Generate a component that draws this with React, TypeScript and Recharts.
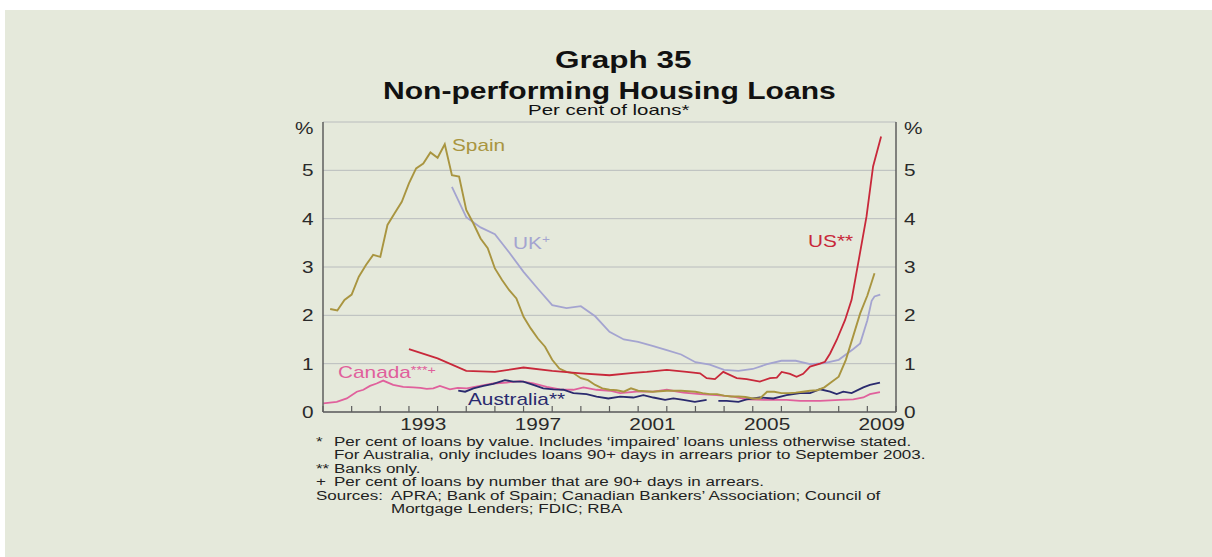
import React from 'react';
import { LineChart, Line, XAxis, YAxis, CartesianGrid } from 'recharts';

// ---------- data (time in decimal years, value in per cent) ----------
const spain = [
  { t: 1990.25, v: 2.13 }, { t: 1990.5, v: 2.1 }, { t: 1990.75, v: 2.32 }, { t: 1991.0, v: 2.43 },
  { t: 1991.25, v: 2.8 }, { t: 1991.5, v: 3.04 }, { t: 1991.75, v: 3.25 }, { t: 1992.0, v: 3.21 },
  { t: 1992.25, v: 3.87 }, { t: 1992.5, v: 4.11 }, { t: 1992.75, v: 4.35 }, { t: 1993.0, v: 4.73 },
  { t: 1993.25, v: 5.04 }, { t: 1993.5, v: 5.14 }, { t: 1993.75, v: 5.37 }, { t: 1994.0, v: 5.26 },
  { t: 1994.25, v: 5.54 }, { t: 1994.5, v: 4.9 }, { t: 1994.75, v: 4.87 }, { t: 1995.0, v: 4.18 },
  { t: 1995.25, v: 3.9 }, { t: 1995.5, v: 3.59 }, { t: 1995.75, v: 3.39 }, { t: 1996.0, v: 2.97 },
  { t: 1996.25, v: 2.73 }, { t: 1996.5, v: 2.52 }, { t: 1996.75, v: 2.35 }, { t: 1997.0, v: 1.97 },
  { t: 1997.25, v: 1.73 }, { t: 1997.5, v: 1.52 }, { t: 1997.75, v: 1.35 }, { t: 1998.0, v: 1.08 },
  { t: 1998.25, v: 0.9 }, { t: 1998.5, v: 0.83 }, { t: 1998.75, v: 0.8 }, { t: 1999.0, v: 0.7 },
  { t: 1999.25, v: 0.66 }, { t: 1999.5, v: 0.56 }, { t: 1999.75, v: 0.49 }, { t: 2000.0, v: 0.46 },
  { t: 2000.25, v: 0.45 }, { t: 2000.5, v: 0.42 }, { t: 2000.75, v: 0.49 }, { t: 2001.0, v: 0.44 },
  { t: 2001.25, v: 0.43 }, { t: 2001.5, v: 0.42 }, { t: 2001.75, v: 0.43 }, { t: 2002.0, v: 0.44 },
  { t: 2002.25, v: 0.44 }, { t: 2002.5, v: 0.44 }, { t: 2002.75, v: 0.43 }, { t: 2003.0, v: 0.42 },
  { t: 2003.25, v: 0.39 }, { t: 2003.5, v: 0.37 }, { t: 2003.75, v: 0.37 }, { t: 2004.0, v: 0.34 },
  { t: 2004.25, v: 0.32 }, { t: 2004.5, v: 0.32 }, { t: 2004.75, v: 0.31 }, { t: 2005.0, v: 0.28 },
  { t: 2005.25, v: 0.28 }, { t: 2005.5, v: 0.42 }, { t: 2005.75, v: 0.42 }, { t: 2006.0, v: 0.39 },
  { t: 2006.25, v: 0.39 }, { t: 2006.5, v: 0.4 }, { t: 2006.75, v: 0.42 }, { t: 2007.0, v: 0.44 },
  { t: 2007.25, v: 0.45 }, { t: 2007.5, v: 0.51 }, { t: 2007.75, v: 0.62 }, { t: 2008.0, v: 0.73 },
  { t: 2008.25, v: 1.08 }, { t: 2008.5, v: 1.56 }, { t: 2008.75, v: 2.04 }, { t: 2009.0, v: 2.41 },
  { t: 2009.25, v: 2.87 },
];

const uk = [
  { t: 1994.5, v: 4.66 }, { t: 1995.0, v: 4.03 }, { t: 1995.5, v: 3.82 }, { t: 1996.0, v: 3.68 },
  { t: 1996.5, v: 3.3 }, { t: 1997.0, v: 2.9 }, { t: 1997.5, v: 2.55 }, { t: 1998.0, v: 2.21 },
  { t: 1998.5, v: 2.15 }, { t: 1999.0, v: 2.19 }, { t: 1999.5, v: 1.98 }, { t: 2000.0, v: 1.66 },
  { t: 2000.5, v: 1.5 }, { t: 2001.0, v: 1.45 }, { t: 2001.5, v: 1.37 }, { t: 2002.0, v: 1.28 },
  { t: 2002.5, v: 1.19 }, { t: 2003.0, v: 1.03 }, { t: 2003.5, v: 0.98 }, { t: 2004.0, v: 0.87 },
  { t: 2004.5, v: 0.85 }, { t: 2005.0, v: 0.89 }, { t: 2005.5, v: 0.99 }, { t: 2006.0, v: 1.06 },
  { t: 2006.5, v: 1.06 }, { t: 2007.0, v: 0.99 }, { t: 2007.5, v: 1.01 }, { t: 2008.0, v: 1.08 },
  { t: 2008.5, v: 1.3 }, { t: 2008.75, v: 1.42 }, { t: 2009.0, v: 1.9 }, { t: 2009.15, v: 2.3 },
  { t: 2009.25, v: 2.39 }, { t: 2009.45, v: 2.43 },
];

const us = [
  { t: 1993.0, v: 1.3 }, { t: 1994.0, v: 1.11 }, { t: 1995.0, v: 0.85 }, { t: 1996.0, v: 0.83 },
  { t: 1997.0, v: 0.92 }, { t: 1998.0, v: 0.85 }, { t: 1999.0, v: 0.8 }, { t: 2000.0, v: 0.76 },
  { t: 2000.83, v: 0.81 }, { t: 2001.3, v: 0.83 }, { t: 2002.0, v: 0.87 }, { t: 2002.69, v: 0.83 },
  { t: 2003.16, v: 0.8 }, { t: 2003.39, v: 0.7 }, { t: 2003.68, v: 0.68 }, { t: 2003.97, v: 0.83 },
  { t: 2004.44, v: 0.7 }, { t: 2004.79, v: 0.68 }, { t: 2005.25, v: 0.63 }, { t: 2005.6, v: 0.7 },
  { t: 2005.84, v: 0.71 }, { t: 2006.01, v: 0.83 }, { t: 2006.3, v: 0.79 }, { t: 2006.53, v: 0.73 },
  { t: 2006.76, v: 0.79 }, { t: 2007.0, v: 0.94 }, { t: 2007.35, v: 1.0 }, { t: 2007.52, v: 1.04 },
  { t: 2007.7, v: 1.21 }, { t: 2007.93, v: 1.49 }, { t: 2008.22, v: 1.9 }, { t: 2008.45, v: 2.32 },
  { t: 2008.68, v: 3.08 }, { t: 2008.97, v: 4.04 }, { t: 2009.2, v: 5.08 }, { t: 2009.48, v: 5.7 },
];

const canada = [
  { t: 1990.01, v: 0.18 }, { t: 1990.48, v: 0.21 }, { t: 1990.83, v: 0.28 }, { t: 1991.18, v: 0.42 },
  { t: 1991.41, v: 0.46 }, { t: 1991.64, v: 0.54 }, { t: 1991.87, v: 0.59 }, { t: 1992.1, v: 0.65 },
  { t: 1992.45, v: 0.56 }, { t: 1992.8, v: 0.52 }, { t: 1993.15, v: 0.51 }, { t: 1993.4, v: 0.5 },
  { t: 1993.62, v: 0.48 }, { t: 1993.85, v: 0.49 }, { t: 1994.08, v: 0.54 }, { t: 1994.43, v: 0.47 },
  { t: 1994.7, v: 0.5 }, { t: 1995.02, v: 0.49 }, { t: 1995.48, v: 0.54 }, { t: 1995.94, v: 0.59 },
  { t: 1996.41, v: 0.61 }, { t: 1996.88, v: 0.64 }, { t: 1997.34, v: 0.59 }, { t: 1997.81, v: 0.52 },
  { t: 1998.27, v: 0.47 }, { t: 1998.74, v: 0.46 }, { t: 1999.09, v: 0.51 }, { t: 1999.55, v: 0.46 },
  { t: 2000.02, v: 0.44 }, { t: 2000.37, v: 0.39 }, { t: 2000.95, v: 0.42 }, { t: 2001.53, v: 0.42 },
  { t: 2002.0, v: 0.46 }, { t: 2002.58, v: 0.4 }, { t: 2003.16, v: 0.37 }, { t: 2003.74, v: 0.35 },
  { t: 2004.32, v: 0.32 }, { t: 2004.79, v: 0.26 }, { t: 2005.49, v: 0.25 }, { t: 2006.18, v: 0.25 },
  { t: 2006.65, v: 0.23 }, { t: 2007.35, v: 0.23 }, { t: 2008.05, v: 0.25 }, { t: 2008.51, v: 0.26 },
  { t: 2008.86, v: 0.3 }, { t: 2009.09, v: 0.37 }, { t: 2009.44, v: 0.41 },
];

const australia = [
  { t: 1994.72, v: 0.44 }, { t: 1994.96, v: 0.42 }, { t: 1995.25, v: 0.49 }, { t: 1995.6, v: 0.54 },
  { t: 1995.94, v: 0.58 }, { t: 1996.35, v: 0.66 }, { t: 1996.64, v: 0.63 }, { t: 1996.99, v: 0.63 },
  { t: 1997.34, v: 0.56 }, { t: 1997.69, v: 0.49 }, { t: 1998.04, v: 0.47 }, { t: 1998.39, v: 0.46 },
  { t: 1998.74, v: 0.39 }, { t: 1999.2, v: 0.37 }, { t: 1999.55, v: 0.32 }, { t: 1999.96, v: 0.28 },
  { t: 2000.37, v: 0.32 }, { t: 2000.83, v: 0.3 }, { t: 2001.18, v: 0.35 }, { t: 2001.53, v: 0.3 },
  { t: 2001.94, v: 0.25 }, { t: 2002.23, v: 0.28 }, { t: 2002.58, v: 0.25 }, { t: 2002.98, v: 0.21 },
  { t: 2003.39, v: 0.25 }, { t: 2003.55, v: null }, { t: 2003.8, v: 0.23 }, { t: 2004.09, v: 0.23 },
  { t: 2004.5, v: 0.21 }, { t: 2004.79, v: 0.26 }, { t: 2005.25, v: 0.3 }, { t: 2005.72, v: 0.28 },
  { t: 2006.18, v: 0.35 }, { t: 2006.65, v: 0.39 }, { t: 2007.0, v: 0.39 }, { t: 2007.35, v: 0.47 },
  { t: 2007.7, v: 0.42 }, { t: 2007.93, v: 0.37 }, { t: 2008.16, v: 0.42 }, { t: 2008.45, v: 0.39 },
  { t: 2008.86, v: 0.51 }, { t: 2009.09, v: 0.56 }, { t: 2009.44, v: 0.61 },
];

const yearTicks = [1990, 1991, 1992, 1993, 1994, 1995, 1996, 1997, 1998, 1999, 2000,
  2001, 2002, 2003, 2004, 2005, 2006, 2007, 2008, 2009, 2010];
const yearLabels = [1993, 1997, 2001, 2005, 2009];
const yTicks = [0, 1, 2, 3, 4, 5, 6];

const footnotes = [
  { mark: '*', text: 'Per cent of loans by value. Includes \u2018impaired\u2019 loans unless otherwise stated.' },
  { mark: '', text: 'For Australia, only includes loans 90+ days in arrears prior to September 2003.' },
  { mark: '**', text: 'Banks only.' },
  { mark: '+', text: 'Per cent of loans by number that are 90+ days in arrears.' },
];
const sources = ['APRA; Bank of Spain; Canadian Bankers\u2019 Association; Council of', 'Mortgage Lenders; FDIC; RBA'];

// ---------- styles ----------
const FONT = '"Liberation Sans", Arial, Helvetica, sans-serif';
const BG = '#e5e9db';
const C_SPAIN = '#a99540';
const C_UK = '#a4a4d0';
const C_US = '#c8283a';
const C_CAN = '#e0609c';
const C_AUS = '#2a2a6e';
const AXIS = '#5e5e5e';
const GRID = '#b9bcbd';

const T = ({ x, y, size, s, anchor = 'start', weight = 'normal', fill = '#222', children }: any) => (
  <text
    transform={`translate(${x},${y}) scale(${s},1)`}
    fontSize={size}
    fontWeight={weight}
    textAnchor={anchor}
    fill={fill}
    fontFamily={FONT}
  >
    {children}
  </text>
);

const XTick = (props: any) => {
  const { x, y, payload } = props;
  const v = payload.value;
  if (Number.isInteger(v)) {
    return <line x1={x} x2={x} y1={y} y2={y - 6} stroke={AXIS} strokeWidth={1.2} />;
  }
  return (
    <T x={x} y={y + 18} size={16} s={1.3} anchor="middle" fill="#2a2a2a">
      {String(Math.floor(v))}
    </T>
  );
};

const YTick = (props: any) => {
  const { x, y, payload, side } = props;
  const top = payload.value === 6;
  const label = top ? '%' : String(payload.value);
  const tx = side === 'left' ? x - 9.5 : x + 8;
  const ty = y + (top ? 11.5 : 6);
  return (
    <T x={tx} y={ty} size={16} s={1.3} anchor={side === 'left' ? 'end' : 'start'} fill="#2a2a2a">
      {label}
    </T>
  );
};

const xTickValues = [...yearTicks, ...yearLabels.map((y) => y + 0.5)];

const FN_SIZE = 12.5;
const FN_S = 1.36;
const FN_Y = 446;
const FN_DY = 13.4;

export default function App() {
  return (
    <div style={{ position: 'absolute', left: 0, top: 0, width: 1212, height: 557, background: '#ffffff', overflow: 'hidden' }}>
      <div style={{ position: 'absolute', left: 5, top: 10, width: 1207, height: 547, background: BG }} />
      <div style={{ position: 'absolute', left: 0, top: 0 }}>
        <LineChart width={1212} height={557} margin={{ top: 122, right: 276, bottom: 115, left: 283 }}>
          <CartesianGrid vertical={false} stroke={GRID} strokeWidth={1} yAxisId="left" />
          <XAxis
            dataKey="t"
            type="number"
            domain={[1990, 2010]}
            ticks={xTickValues}
            interval={0}
            tickSize={0}
            tickMargin={0}
            tickLine={false}
            axisLine={{ stroke: AXIS, strokeWidth: 1.5 }}
            tick={(p: any) => <XTick {...p} />}
            height={30}
          />
          <YAxis
            yAxisId="left"
            orientation="left"
            type="number"
            domain={[0, 6]}
            ticks={yTicks}
            interval={0}
            width={40}
            tickSize={0}
            tickMargin={0}
            tickLine={false}
            axisLine={{ stroke: AXIS, strokeWidth: 1.5 }}
            tick={(p: any) => <YTick {...p} side="left" />}
          />
          <YAxis
            yAxisId="right"
            orientation="right"
            type="number"
            domain={[0, 6]}
            ticks={yTicks}
            interval={0}
            width={40}
            tickSize={0}
            tickMargin={0}
            tickLine={false}
            axisLine={{ stroke: AXIS, strokeWidth: 1.5 }}
            tick={(p: any) => <YTick {...p} side="right" />}
          />
          <Line yAxisId="left" data={canada} dataKey="v" stroke={C_CAN} strokeWidth={1.8} dot={false} isAnimationActive={false} />
          <Line yAxisId="left" data={australia} dataKey="v" stroke={C_AUS} strokeWidth={1.8} dot={false} isAnimationActive={false} connectNulls={false} />
          <Line yAxisId="left" data={uk} dataKey="v" stroke={C_UK} strokeWidth={1.8} dot={false} isAnimationActive={false} />
          <Line yAxisId="left" data={spain} dataKey="v" stroke={C_SPAIN} strokeWidth={1.9} dot={false} isAnimationActive={false} />
          <Line yAxisId="right" data={us} dataKey="v" stroke={C_US} strokeWidth={1.8} dot={false} isAnimationActive={false} />
        </LineChart>
      </div>
      <svg style={{ position: 'absolute', left: 0, top: 0, pointerEvents: 'none' }} width={1212} height={557}>
        {/* titles */}
        <T x={555} y={68} size={23.5} s={1.34} weight="bold" fill="#111">Graph 35</T>
        <T x={383} y={98.5} size={23.5} s={1.28} weight="bold" fill="#111">Non-performing Housing Loans</T>
        <T x={528} y={114.5} size={14.5} s={1.41} fill="#111">Per cent of loans*</T>

        {/* series labels */}
        <T x={452} y={150.5} size={16} s={1.3} fill={C_SPAIN}>Spain</T>
        <T x={513} y={249.3} size={16} s={1.3} fill={C_UK}>
          UK<tspan fontSize={10.5} dy={-6}>+</tspan>
        </T>
        <T x={808} y={247} size={16} s={1.3} fill={C_US}>US**</T>
        <T x={338} y={378.3} size={16} s={1.3} fill={C_CAN}>
          Canada<tspan fontSize={11} dy={-4.5}>***+</tspan>
        </T>
        <T x={468} y={405} size={16} s={1.3} fill={C_AUS}>Australia**</T>

        {/* footnotes */}
        {footnotes.map((f, i) => (
          <g key={i}>
            {f.mark ? <T x={316} y={FN_Y + i * FN_DY} size={FN_SIZE} s={FN_S}>{f.mark}</T> : null}
            <T x={334} y={FN_Y + i * FN_DY} size={FN_SIZE} s={FN_S}>{f.text}</T>
          </g>
        ))}
        <T x={316} y={FN_Y + 4 * FN_DY} size={FN_SIZE} s={FN_S}>Sources:</T>
        {sources.map((s, i) => (
          <T key={i} x={391} y={FN_Y + (4 + i) * FN_DY} size={FN_SIZE} s={FN_S}>{s}</T>
        ))}
      </svg>
    </div>
  );
}
